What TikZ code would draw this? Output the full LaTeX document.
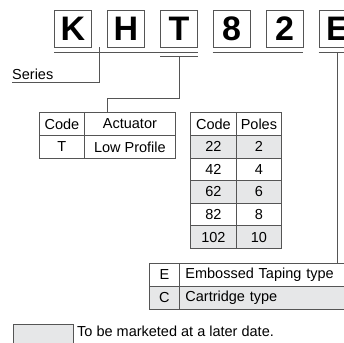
\documentclass[tikz,border=0pt]{standalone}
\usepackage{fontspec}
\setmainfont{Liberation Sans}
\usetikzlibrary{positioning,calc}
\definecolor{cellgray}{RGB}{230,231,232}
\definecolor{linegray}{RGB}{85,85,85}
\tikzset{
  letterbox/.style={draw=linegray, line width=0.9pt, minimum width=37pt, minimum height=37pt,
    inner sep=0pt, font=\fontsize{34}{36}\selectfont\bfseries},
  cell/.style={draw=linegray, line width=0.8pt, inner sep=0pt, anchor=north west,
    font=\fontsize{14.5}{16}\selectfont},
  desc/.style={cell, inner xsep=6pt, align=left, text width=169pt, minimum width=181pt, minimum height=23pt},
  leader/.style={draw=linegray, line width=0.9pt},
  plaintext/.style={inner sep=0pt, font=\fontsize{14.5}{16}\selectfont}
}
\begin{document}
\begin{tikzpicture}[x=1pt,y=-1pt]
	\clip (0,0) rectangle (344,342);
	% part number
	\foreach \ch/\nm/\x in {K/K/73, H/H/126, T/T/179, 8/8/231.5, 2/2/284.5, E/E/337.5}
	\node[letterbox] (box\nm) at (\x,28.5) {\ch};
	\coordinate (ul) at ([yshift=-5pt]boxK.south);
	\coordinate (ulT) at ([yshift=-9pt]boxT.south);
	\draw[leader] (ul -| boxK.west) -- (ul -| boxT.east);
	\draw[leader] (ulT -| boxT.west) -- (ulT -| boxT.east);
	\draw[leader] (ul -| box8.west) -- (ul -| box2.east);
	\draw[leader] (ul -| boxE.west) -- (ul -| boxE.east);
	
	% series
	\node[plaintext, anchor=base west] (series) at (12,79) {Series};
	\coordinate (seriesend) at (12,82);
	\draw[leader] ($(boxK.south)!0.5!(boxH.south)$ |- ul) |- (seriesend);
	
	% actuator
	\node[cell, minimum width=45pt, minimum height=23pt] (ac0) at (39,112) {Code};
	\node[cell, minimum width=91pt, minimum height=23pt] (aa0) at (84,112) {Actuator};
	\node[cell, minimum width=45pt, minimum height=23pt] (ac1) at (39,135) {T};
	\node[cell, minimum width=91pt, minimum height=23pt] (aa1) at (84,135) {Low Profile};
	\coordinate (acttop) at (107,112);
	\draw[leader] (ulT) |- ($(acttop)+(0,-14)$) -- (acttop);
	
	% poles
	\node[cell, minimum width=46pt, minimum height=23pt] (pc0) at (190,112) {Code};
	\node[cell, minimum width=45pt, minimum height=23pt] (pp0) at (236,112) {Poles};
	\foreach \c/\p/\f [count=\i] in {22/2/cellgray, 42/4/white, 62/6/cellgray, 82/8/white, 102/10/cellgray}
	{
		\node[cell, fill=\f, minimum width=46pt, minimum height=22.6pt] (pc\i) at (190,135+22.6*\i-22.6) {\c};
		\node[cell, fill=\f, minimum width=45pt, minimum height=22.6pt] (pp\i) at (236,135+22.6*\i-22.6) {\p};
	}
	\draw[leader] ($(box8.south)!0.5!(box2.south)$ |- ul) -- ($(box8.south)!0.5!(box2.south)$ |- pp0.north);
	
	% packaging
	\node[cell, minimum width=30pt, minimum height=23pt] (ec1) at (149,263) {E};
	\node[desc] (ed1) at (179,263) {Embossed Taping type};
	\node[cell, fill=cellgray, minimum width=30pt, minimum height=23pt] (ec2) at (149,286) {C};
	\node[desc, fill=cellgray] (ed2) at (179,286) {Cartridge type};
	\draw[leader] (boxE.south |- ul) -- (boxE.south |- ed1.north);
	
	% note
	\node[cell, fill=cellgray, minimum width=60pt, minimum height=22pt] (legend) at (13,324) {};
	\node[plaintext, anchor=base west] (note) at (77,336) {To be marketed at a later date.};
\end{tikzpicture}
\end{document}
